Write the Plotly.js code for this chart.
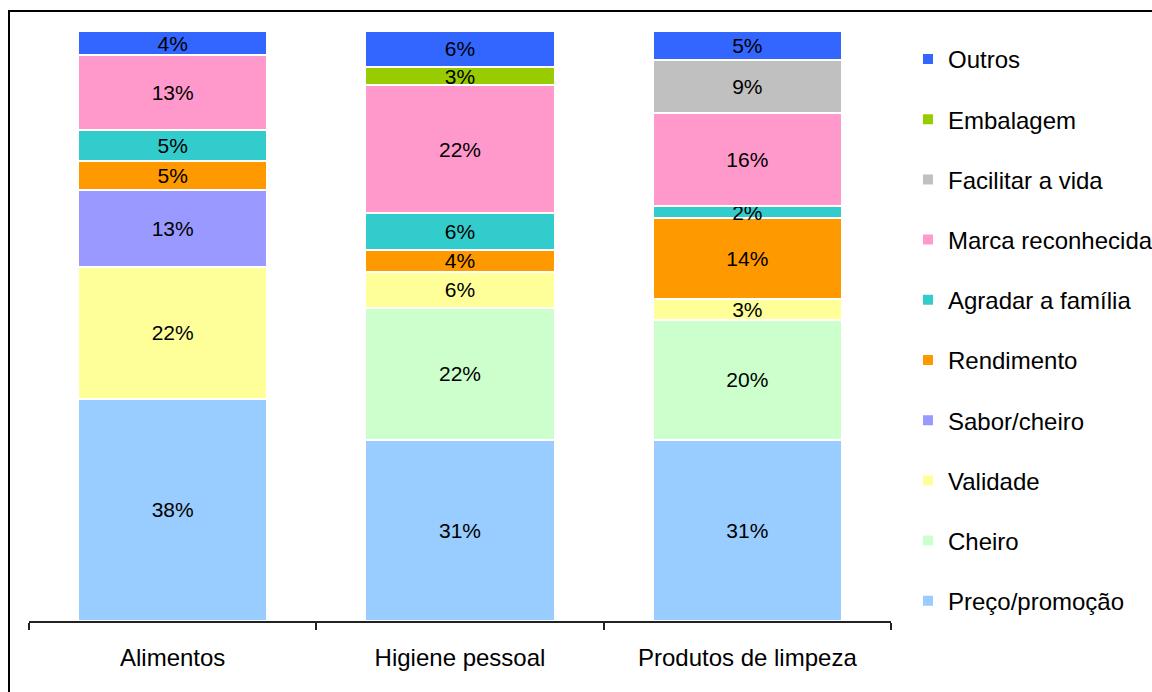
<!DOCTYPE html>
<html>
<head>
<meta charset="utf-8">
<script src="https://cdn.plot.ly/plotly-3.0.1.min.js"></script>
<style>
  html, body { margin: 0; padding: 0; background: #fff; }
  #chart { width: 1152px; height: 692px; position: relative; }
  #frame { position: absolute; left: 8px; top: 10px; width: 1200px; height: 700px;
           border-top: 2px solid #000; border-left: 2px solid #000; pointer-events: none; }
</style>
</head>
<body>
<div id="chart"></div>
<div id="frame"></div>
<script>
const categories = ["Alimentos", "Higiene pessoal", "Produtos de limpeza"];

// Series, bottom to top of each stacked bar (values in %)
const seriesNames = ["Preço/promoção", "Cheiro", "Validade", "Sabor/cheiro", "Rendimento",
                     "Agradar a família", "Marca reconhecida", "Facilitar a vida", "Embalagem", "Outros"];
const precoPromocao    = [37.7, 30.7, 30.7];
const cheiro           = [null, 22.4, 20.4];
const validade         = [22.3, 6.1, 3.4];
const saborCheiro      = [13.1, null, null];
const rendimento       = [4.8, 3.7, 13.8];
const agradarFamilia   = [5.3, 6.3, 2.0];
const marcaReconhecida = [12.7, 21.6, 15.8];
const facilitarVida    = [null, null, 9.0];
const embalagem        = [null, 3.1, null];
const outros           = [4.1, 6.1, 4.9];

const seriesValues = [precoPromocao, cheiro, validade, saborCheiro, rendimento,
                      agradarFamilia, marcaReconhecida, facilitarVida, embalagem, outros];
const seriesColors = ["#99CCFF", "#CCFFCC", "#FFFF99", "#9999FF", "#FF9900",
                      "#33CCCC", "#FF99CC", "#C0C0C0", "#99CC00", "#3366FF"];

const FONT = "Liberation Sans, Arial, sans-serif";

const traces = seriesNames.map((name, i) => ({
  type: "bar",
  name: name,
  x: categories,
  y: seriesValues[i],
  legendgroup: "g" + i,
  legendrank: 100 - i,
  marker: { color: seriesColors[i], line: { color: "#FFFFFF", width: 2 } },
  texttemplate: "%{y:.0f}%",
  textposition: "inside",
  insidetextanchor: "middle",
  textangle: 0,
  constraintext: "none",
  textfont: { family: FONT, size: 21, color: "#000" },
  hoverinfo: "name+y"
}));

const layout = {
  width: 1152,
  height: 692,
  margin: { l: 29, r: 261, t: 31, b: 71, autoexpand: false },
  paper_bgcolor: "#FFFFFF",
  plot_bgcolor: "#FFFFFF",
  barmode: "stack",
  bargap: 0.34,
  font: { family: FONT, size: 24, color: "#000" },
  showlegend: true,
  legend: {
    traceorder: "grouped",
    tracegroupgap: 26,
    x: 1.0197, xanchor: "left",
    y: 0.99, yanchor: "top",
    maxheight: 1,
    font: { family: FONT, size: 24, color: "#000" },
    bgcolor: "rgba(0,0,0,0)"
  },
  xaxis: {
    type: "category",
    showline: true,
    linecolor: "#222",
    linewidth: 2,
    ticks: "outside",
    tickson: "boundaries",
    ticklen: 7,
    tickwidth: 2,
    tickcolor: "#222",
    ticklabelstandoff: 14,
    tickfont: { family: FONT, size: 24, color: "#000" },
    showgrid: false,
    zeroline: false
  },
  yaxis: {
    visible: false,
    range: [0, 100],
    showgrid: false,
    zeroline: false
  }
};

Plotly.newPlot("chart", traces, layout, { displayModeBar: false, staticPlot: true });
</script>
</body>
</html>
